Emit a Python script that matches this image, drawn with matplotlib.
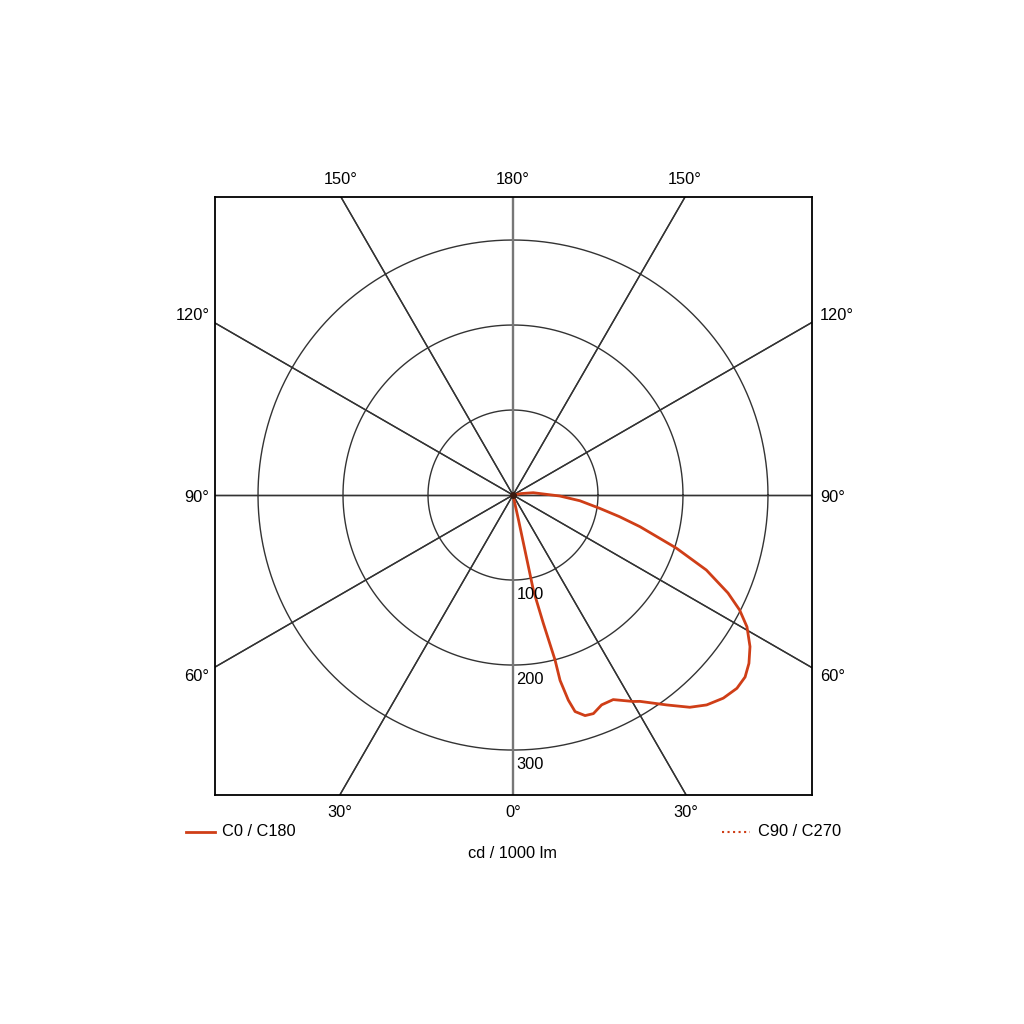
import numpy as np
import matplotlib.pyplot as plt

plt.rcParams['font.family'] = ['Liberation Sans', 'DejaVu Sans']

# C0 / C180 plane, gamma angle (deg from nadir) and intensity (cd / 1000 lm)
gamma_c0 = [0, 12.5, 12.2, 12.1, 13.3, 14.3, 14.25, 15.1, 16.0, 18.1, 20.2, 22.9,
            26.1, 30.2, 31.6, 36.2, 39.8, 42.7, 46.0, 49.2, 51.9, 54.5, 57.4,
            60.6, 63.1, 65.5, 68.8, 72, 76, 78.5, 81.3, 85.1, 88.8, 96.5, 100, 105]
cd_c0 = [0, 30, 70, 115, 155, 200, 225, 250, 265, 273, 274, 268,
         268, 281, 285, 306, 325, 336, 344, 348, 347, 341, 331,
         316, 299, 278, 244, 202, 154, 128, 103, 79, 55, 24, 10, 0]
# C90 / C270 plane (nothing visible outside the centre)
gamma_c90 = [0, 90, 180]
cd_c90 = [0, 0, 0]

rings = [100, 200, 300]
spokes = [0, 30, 60, 90, 120, 150]

red = '#cf3e17'
grid_c = '#333333'

fig = plt.figure(figsize=(10.24, 10.24), dpi=100)
ax = fig.add_axes([215 / 1024, 1 - 795 / 1024, 597 / 1024, 598 / 1024])
ax.set_xlim(-350.6, 351.8)
ax.set_ylim(-352.9, 350.6)
ax.set_xticks([])
ax.set_yticks([])
for s in ax.spines.values():
    s.set_linewidth(1.3)
    s.set_color('black')

fs = 11.8

# rings
t = np.linspace(0, 2 * np.pi, 400)
for r in rings:
    ax.plot(r * np.cos(t), r * np.sin(t), color=grid_c, lw=1.0)
    ax.text(4, -r - 8, str(r), ha='left', va='top', fontsize=fs)

# spokes
L = 800
for g in spokes:
    a = np.radians(g)
    dx, dy = np.sin(a) * L, np.cos(a) * L
    if g == 0:
        ax.plot([0, 0], [-L, L], color='#777777', lw=1.7)
    else:
        ax.plot([-dx, dx], [-dy, dy], color=grid_c, lw=1.0)
        ax.plot([dx, -dx], [-dy, dy], color=grid_c, lw=1.0)

# curves
g0 = np.radians(gamma_c0)
ax.plot(np.sin(g0) * np.array(cd_c0), -np.cos(g0) * np.array(cd_c0),
        color=red, lw=2.0, solid_joinstyle='round')
g9 = np.radians(gamma_c90)
ax.plot(np.sin(g9) * np.array(cd_c90), -np.cos(g9) * np.array(cd_c90),
        color=red, lw=1.5, ls=':')
ax.plot([0], [0], 'o', color='#3a1a10', ms=4)

# angle labels
top_y = 370.6
bot_y = -373.0
tx = 350.6 * np.tan(np.radians(30))
bx = 352.9 * np.tan(np.radians(30))
for x, lab in [(-tx, '150°'), (0, '180°'), (tx, '150°')]:
    ax.text(x, top_y, lab, ha='center', va='center', fontsize=fs, clip_on=False)
for x, lab in [(-bx, '30°'), (0, '0°'), (bx, '30°')]:
    ax.text(x, bot_y, lab, ha='center', va='center', fontsize=fs, clip_on=False)
for y, lab in [(211, '120°'), (-3, '90°'), (-214, '60°')]:
    ax.text(-357, y, lab, ha='right', va='center', fontsize=fs, clip_on=False)
    ax.text(361, y, lab, ha='left', va='center', fontsize=fs, clip_on=False)

# legend and unit
fig.lines.append(plt.Line2D([186 / 1024, 215 / 1024], [1 - 832 / 1024] * 2,
                            color=red, lw=2.0, transform=fig.transFigure))
fig.text(222 / 1024, 1 - 832 / 1024, 'C0 / C180', ha='left', va='center', fontsize=fs)
fig.lines.append(plt.Line2D([722 / 1024, 750 / 1024], [1 - 832 / 1024] * 2,
                            color=red, lw=1.5, ls=':', transform=fig.transFigure))
fig.text(758 / 1024, 1 - 832 / 1024, 'C90 / C270', ha='left', va='center', fontsize=fs)
fig.text(513 / 1024, 1 - 853 / 1024, 'cd / 1000 lm', ha='center', va='center', fontsize=fs)

fig.savefig('out.png', dpi=100, facecolor='white')
